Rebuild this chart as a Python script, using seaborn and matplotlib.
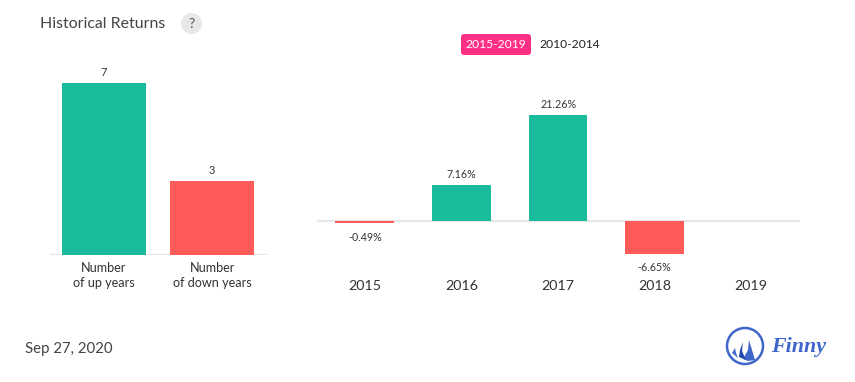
import matplotlib
matplotlib.use("Agg")
import matplotlib.pyplot as plt
from matplotlib.patches import Circle, FancyBboxPatch, Polygon
import pandas as pd
import seaborn as sns

# ---- data ----
count_labels = ["Number\nof up years", "Number\nof down years"]
count_values = [7, 3]
years = ["2015", "2016", "2017", "2018", "2019"]
returns = [-0.49, 7.16, 21.26, -6.65, 0.0]
return_labels = ["-0.49%", "7.16%", "21.26%", "-6.65%", ""]

GREEN, RED = "#1abc9c", "#ff5a5a"
W, H = 855, 382

sns.set_theme(style="white")
plt.rcParams["font.family"] = ["Lato", "DejaVu Sans"]
fig = plt.figure(figsize=(W / 100, H / 100), dpi=100)


def axes_px(x0, y_top, x1, y_bot):
    return fig.add_axes([x0 / W, 1 - y_bot / H, (x1 - x0) / W, (y_bot - y_top) / H])


def style(ax):
    sns.despine(ax=ax, left=True, top=True, right=True, bottom=True)
    ax.set_xlabel("")
    ax.set_ylabel("")
    ax.set_yticks([])
    ax.tick_params(axis="x", length=0)


# ---- left panel ----
ax1 = axes_px(50, 55, 267, 255)
df1 = pd.DataFrame({"label": count_labels, "value": count_values})
sns.barplot(data=df1, x="label", y="value", hue="label", palette=[GREEN, RED],
            width=0.774, legend=False, ax=ax1, saturation=1, linewidth=0)
ax1.set_xlim(-0.495, 1.505)
ax1.set_ylim(0, 200 / (172 / 7))
style(ax1)
ax1.axhline(0, color="#e6e6e6", lw=1.5, zorder=0)
ax1.tick_params(axis="x", pad=5, labelsize=9.1, labelcolor="#333333")
for lbl in ax1.get_xticklabels():
    lbl.set_linespacing(1.3)
for i, v in enumerate(count_values):
    ax1.annotate(str(v), (i, v), xytext=(0, 3.8), textcoords="offset points",
                 ha="center", va="bottom", fontsize=8, color="#333333")

# ---- right panel ----
ax2 = axes_px(317, 75, 800, 275)
df2 = pd.DataFrame({"year": years, "ret": returns})
sns.barplot(data=df2, x="year", y="ret", hue="year",
            palette=[RED if r < 0 else GREEN for r in returns],
            width=0.61, legend=False, ax=ax2, saturation=1, linewidth=0)
ax2.set_xlim(-0.495, 4.505)
scale = 106 / 21.26
ax2.set_ylim(-54 / scale, 146 / scale)
style(ax2)
ax2.axhline(0, color="#e6e6e6", lw=1.5, zorder=0)
ax2.set_xticks(range(len(years)), years)
ax2.tick_params(axis="x", pad=3.5, labelsize=10.3, labelcolor="#333333")
for i, (r, s) in enumerate(zip(returns, return_labels)):
    if s:
        off = 3.8 if r >= 0 else -6
        ax2.annotate(s, (i, r), xytext=(0, off), textcoords="offset points",
                     ha="center", va="bottom" if r >= 0 else "top",
                     fontsize=7.7, color="#333333")

# ---- overlay in pixel coordinates: header, pill, footer, logo ----
ov = fig.add_axes([0, 0, 1, 1], facecolor="none")
ov.set_xlim(0, W)
ov.set_ylim(H, 0)
ov.axis("off")

ov.text(40, 23.5, "Historical Returns", fontsize=11.4, color="#444444", va="center")
ov.add_patch(Circle((191.5, 23.5), 10.5, fc="#e8e8e8", ec="none"))
ov.text(191.5, 23.5, "?", fontsize=10, color="#555555", ha="center", va="center")
ov.add_patch(FancyBboxPatch((461, 34), 70, 21, boxstyle="round,pad=0,rounding_size=3",
                            fc="#ff2f86", ec="none"))
ov.text(496, 45, "2015-2019", fontsize=8.7, color="white", ha="center", va="center")
ov.text(570, 45, "2010-2014", fontsize=8.7, color="#222222", ha="center", va="center")
ov.text(25, 348.5, "Sep 27, 2020", fontsize=10.8, color="#444444", va="center")

BLUE, DARK = "#3f66c9", "#2347a8"
ov.add_patch(Circle((745, 346), 18, fc="white", ec=BLUE, lw=1.8))
ov.add_patch(Polygon([(749, 340), (752, 350), (755, 360), (748, 361), (743, 359), (748, 350)],
                     fc=BLUE, ec="none"))
ov.add_patch(Polygon([(743, 342), (740, 350), (739, 357), (746, 360), (742, 351)],
                     fc=DARK, ec="none"))
ov.add_patch(Polygon([(735, 348), (732, 353), (738, 358), (736, 353)], fc=BLUE, ec="none"))
ov.text(771.5, 347, "Finny", fontsize=15.8, color=BLUE, va="center", style="italic",
        weight="bold", family=["Liberation Serif", "DejaVu Sans"])

fig.savefig("out.png", dpi=100)
